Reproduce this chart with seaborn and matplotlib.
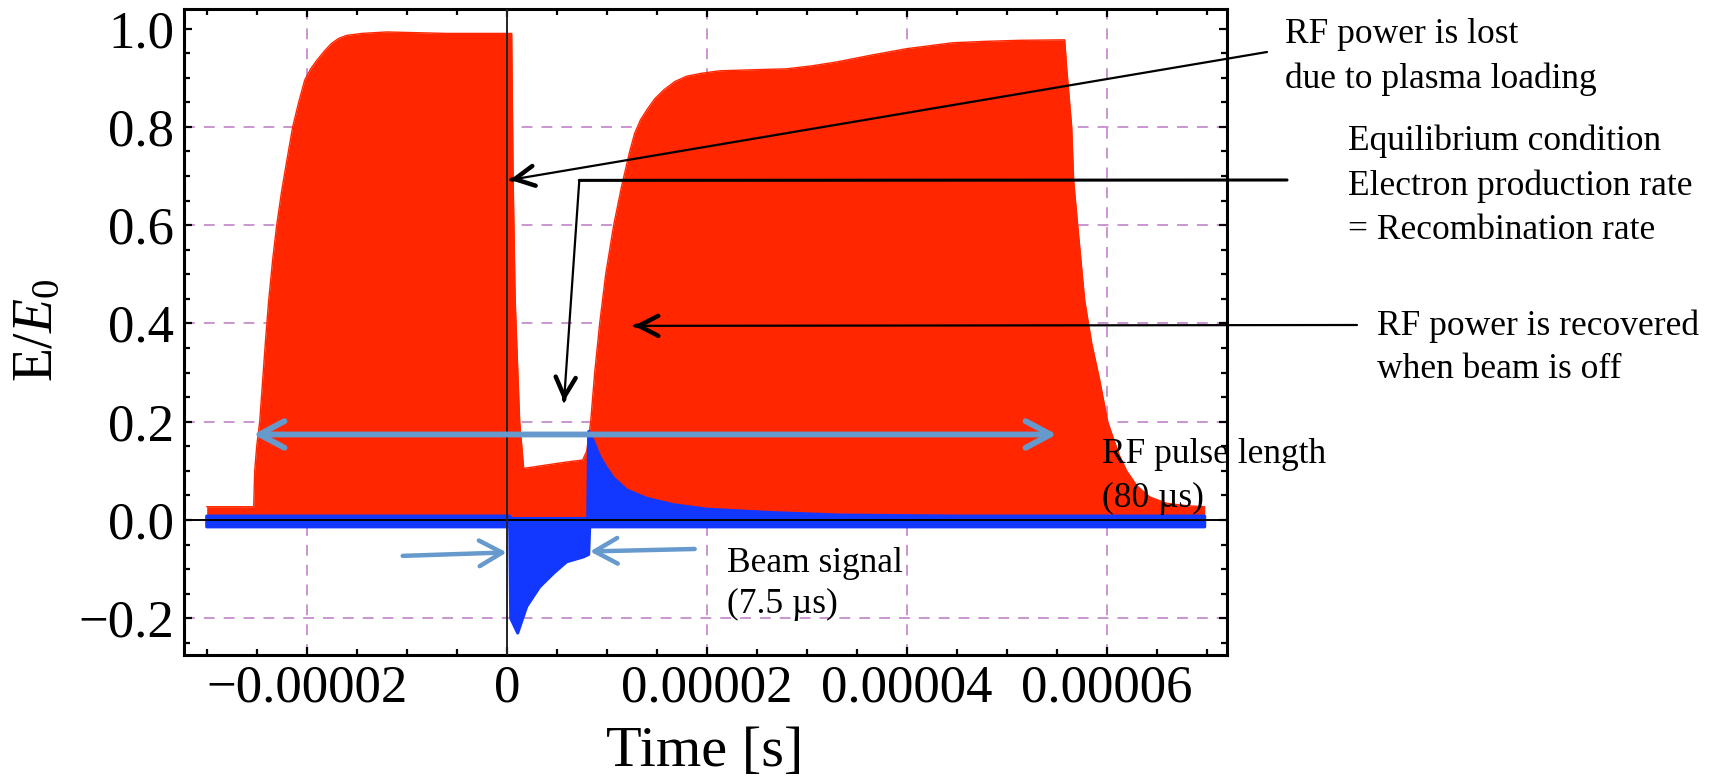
import numpy as np
import seaborn as sns
import matplotlib.pyplot as plt
from matplotlib.ticker import MultipleLocator

# RF field envelope E/E0 (time in microseconds)
rf_time_us = [-30.0, -25.3, -25.2, -25.0, -24.7, -24.4, -24.1, -23.8, -23.4, -23.0,
              -22.5, -22.0, -21.4, -20.8, -20.2, -19.6, -19.0, -18.2, -17.5, -16.8,
              -16.0, -14.5, -12.0, -6.0, 0.0, 0.5, 0.65, 0.85, 1.3, 1.7,
              4.0, 6.0, 7.6, 8.0, 8.4, 8.8, 9.3, 9.9, 10.7, 11.5,
              12.3, 12.8, 13.4, 14.0, 14.8, 15.7, 16.8, 18.0, 19.5, 21.3,
              24.5, 28.0, 30.5, 33.0, 36.5, 40.0, 44.6, 48.0, 51.3, 55.8,
              56.0, 56.5, 56.7, 57.1, 57.8, 58.5, 59.3, 60.1, 60.6, 61.3,
              62.0, 63.0, 64.3, 66.0, 68.0, 69.8]
rf_value = [0.027, 0.027, 0.10, 0.15, 0.20, 0.285, 0.37, 0.447, 0.53, 0.60,
            0.67, 0.73, 0.80, 0.85, 0.895, 0.918, 0.935, 0.955, 0.97, 0.98,
            0.986, 0.99, 0.993, 0.99, 0.99, 0.99, 0.69, 0.447, 0.20, 0.105,
            0.112, 0.118, 0.122, 0.14, 0.20, 0.30, 0.40, 0.50, 0.60, 0.68,
            0.75, 0.787, 0.815, 0.834, 0.857, 0.875, 0.892, 0.903, 0.909, 0.914,
            0.916, 0.918, 0.924, 0.932, 0.946, 0.959, 0.971, 0.974, 0.976, 0.977,
            0.92, 0.80, 0.69, 0.60, 0.447, 0.36, 0.285, 0.20, 0.17, 0.13,
            0.10, 0.07, 0.047, 0.034, 0.029, 0.027]

# beam signal: upper and lower edge of the scattered points
beam_upper_time_us = [-30.0, 0.3, 0.4, 8.1, 8.2, 8.7, 9.3, 10.0, 10.7, 12.0,
                      14.0, 16.7, 20.0, 26.6, 33.3, 45.0, 69.8]
beam_upper = [0.008, 0.008, 0.003, 0.003, 0.18, 0.159, 0.129, 0.105, 0.085, 0.061,
              0.044, 0.031, 0.022, 0.015, 0.010, 0.008, 0.008]
beam_lower_time_us = [-30.0, 0.3, 0.4, 1.1, 2.0, 3.3, 4.7, 6.0, 7.7, 8.2, 8.3, 69.8]
beam_lower = [-0.014, -0.014, -0.20, -0.23, -0.176, -0.136, -0.108, -0.085, -0.075,
              -0.07, -0.014, -0.014]

x_ticks = [-2e-5, 0, 2e-5, 4e-5, 6e-5]
x_tick_labels = ['\u22120.00002', '0', '0.00002', '0.00004', '0.00006']
y_ticks = [-0.2, 0.0, 0.2, 0.4, 0.6, 0.8, 1.0]
y_tick_labels = ['\u22120.2', '0.0', '0.2', '0.4', '0.6', '0.8', '1.0']
grid_x = [-2e-5, 2e-5, 4e-5, 6e-5]
grid_y = [-0.2, 0.2, 0.4, 0.6, 0.8]

RED = '#ff2600'
BLUE = '#1238ff'
STEEL = '#6699cc'
GRID = '#c58ccb'

sns.set_style('ticks')
plt.rcParams['font.family'] = ['Liberation Serif', 'DejaVu Serif']
plt.rcParams['mathtext.fontset'] = 'custom'
plt.rcParams['mathtext.rm'] = 'Liberation Serif'
plt.rcParams['mathtext.it'] = 'Liberation Serif:italic'
plt.rcParams['text.color'] = 'black'
plt.rcParams['xtick.color'] = 'black'
plt.rcParams['ytick.color'] = 'black'
plt.rcParams['xtick.labelcolor'] = 'black'
plt.rcParams['ytick.labelcolor'] = 'black'

W, H = 1726, 776
fig = plt.figure(figsize=(W / 100, H / 100), dpi=100)
ax = fig.add_axes([184 / W, 1 - 655 / H, (1227 - 184) / W, (655 - 9) / H])


def px(x, y):
    # reference pixel (top-left origin) -> figure fraction
    return (x / W, 1 - y / H)


us = 1e-6
rf_t = np.array(rf_time_us) * us
bu_t = np.array(beam_upper_time_us) * us
bl_t = np.array(beam_lower_time_us) * us

# grid
for gx in grid_x:
    ax.axvline(gx, color=GRID, lw=1.3, ls=(0, (6, 5)), zorder=0.5)
for gy in grid_y:
    ax.axhline(gy, color=GRID, lw=1.3, ls=(0, (6, 5)), zorder=0.5)

# RF signal
ax.fill_between(rf_t, 0, rf_value, color=RED, lw=0, zorder=2)
sns.lineplot(x=rf_t, y=rf_value, ax=ax, color=RED, lw=1, zorder=2, estimator=None,
             sort=False)

# beam signal band
ax.fill(np.r_[bu_t, bl_t[::-1]], np.r_[beam_upper, beam_lower[::-1]],
        facecolor=BLUE, edgecolor=BLUE, lw=2.2, joinstyle='round', zorder=3)

ax.axhline(0, color='black', lw=1.4, zorder=4)
ax.axvline(0, color='#222222', lw=1.4, zorder=4)

ax.set_xlim(-3.227e-5, 7.203e-5)
ax.set_ylim(-0.2747, 1.0397)

ax.set_xticks(x_ticks, labels=x_tick_labels)
ax.set_yticks(y_ticks, labels=y_tick_labels)
ax.xaxis.set_minor_locator(MultipleLocator(5e-6))
ax.yaxis.set_minor_locator(MultipleLocator(0.05))
ax.tick_params(which='both', direction='in', top=True, right=True, width=1.6,
               color='black', labelcolor='black')
ax.tick_params(which='major', length=6, labelsize=38, pad=7)
ax.tick_params(which='minor', length=4)
for s in ax.spines.values():
    s.set_linewidth(2.2)
    s.set_color('black')

fig.text(*px(705, 752), 'Time [s]', fontsize=42, ha='center', va='center',
         color='black')
fig.text(*px(38, 330), r'E/$E_\mathrm{0}$', fontsize=40, ha='center', va='center',
         rotation=90, color='black')


def black_arrow(tip, tail, tailcoords):
    ax.annotate('', xy=tip, xycoords='data', xytext=tail, textcoords=tailcoords,
                arrowprops=dict(arrowstyle='-', lw=1.6, color='black',
                                shrinkA=0, shrinkB=0),
                annotation_clip=False, zorder=6)
    p_tip = ax.transData.transform(tip)
    if tailcoords == 'data':
        p_tail = ax.transData.transform(tail)
    else:
        p_tail = fig.transFigure.transform(tail)
    d = (p_tail - p_tip) / np.hypot(*(p_tail - p_tip))
    ax.annotate('', xy=tip, xycoords='data', xytext=(d[0] * 1.5, d[1] * 1.5),
                textcoords='offset points',
                arrowprops=dict(arrowstyle='->,head_length=0.7,head_width=0.36',
                                mutation_scale=20, lw=3.2, color='black',
                                shrinkA=0, shrinkB=0, capstyle='round',
                                joinstyle='round'),
                annotation_clip=False, zorder=6)


# RF power lost
black_arrow((0.33e-6, 0.692), px(1267, 52), 'figure fraction')
# equilibrium condition
corner = (7.26e-6, 0.691)
ax.annotate('', xy=corner, xycoords='data', xytext=px(1287, 180),
            textcoords='figure fraction',
            arrowprops=dict(arrowstyle='-', lw=2.2, color='black', shrinkA=0, shrinkB=0),
            annotation_clip=False, zorder=6)
black_arrow((5.73e-6, 0.241), corner, 'data')
# RF power recovered
black_arrow((12.73e-6, 0.395), px(1357, 325), 'figure fraction')

# RF pulse length
ax.annotate('', xy=(-25.34e-6, 0.174), xytext=(55.0e-6, 0.174),
            arrowprops=dict(arrowstyle='<->,head_length=0.75,head_width=0.4',
                            mutation_scale=24, lw=4.2, color=STEEL,
                            shrinkA=0, shrinkB=0),
            zorder=6)
# beam signal
ax.annotate('', xy=(0.0, -0.066), xytext=(-10.4e-6, -0.073),
            arrowprops=dict(arrowstyle='->,head_length=0.75,head_width=0.42',
                            mutation_scale=22, lw=3.2, color=STEEL,
                            shrinkA=0, shrinkB=0),
            zorder=6)
ax.annotate('', xy=(8.33e-6, -0.064), xytext=(18.8e-6, -0.059),
            arrowprops=dict(arrowstyle='->,head_length=0.75,head_width=0.42',
                            mutation_scale=22, lw=3.2, color=STEEL,
                            shrinkA=0, shrinkB=0),
            zorder=6)

notes = [
    (1285, 43, 'RF power is lost'),
    (1285, 88, 'due to plasma loading'),
    (1348, 150, 'Equilibrium condition'),
    (1348, 195, 'Electron production rate'),
    (1348, 239, '= Recombination rate'),
    (1377, 335, 'RF power is recovered'),
    (1377, 378, 'when beam is off'),
    (1102, 463, 'RF pulse length'),
    (1102, 507, '(80 \u00b5s)'),
    (727, 572, 'Beam signal'),
    (727, 613, '(7.5 \u00b5s)'),
]
for x, y, s in notes:
    fig.text(*px(x, y), s, fontsize=25.5, ha='left', va='baseline', zorder=10,
             color='black')

fig.savefig('out.png', dpi=100)
plt.close(fig)
